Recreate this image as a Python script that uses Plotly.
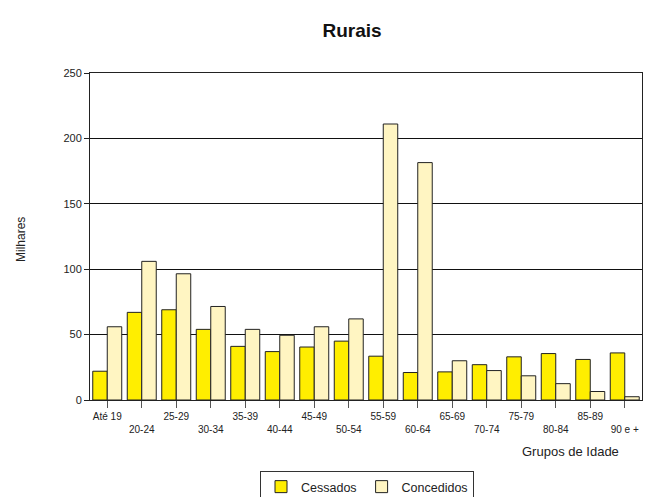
import plotly.graph_objects as go

categories = ["Até 19", "20-24", "25-29", "30-34", "35-39", "40-44", "45-49", "50-54",
              "55-59", "60-64", "65-69", "70-74", "75-79", "80-84", "85-89", "90 e +"]
cessados = [22, 67, 69, 54, 41, 37, 40.5, 45, 33.5, 21, 21.5, 27, 33, 35.5, 31, 36]
concedidos = [56, 106, 96.5, 71.5, 54, 49.5, 56, 62, 211, 181.5, 30, 22.5, 18.5, 12.5, 6.5, 2.5]
tick_labels = [c if i % 2 == 0 else "<br>" + c for i, c in enumerate(categories)]

W, H = 659, 497
pl, pr, pt, pb = 90, 642, 73, 400

fig = go.Figure()
fig.add_trace(go.Bar(x=categories, y=cessados, name="Cessados",
                     marker=dict(color="#FFEE00", line=dict(color="#222222", width=1))))
fig.add_trace(go.Bar(x=categories, y=concedidos, name="Concedidos",
                     marker=dict(color="#FFF5C2", line=dict(color="#222222", width=1))))

def px_x(x):
    return (x - pl) / (pr - pl)

def px_y(y):
    return (pb - y) / (pb - pt)

fig.update_layout(
    width=W, height=H,
    margin=dict(l=pl, r=W - pr, t=pt, b=H - pb, autoexpand=False),
    paper_bgcolor="white", plot_bgcolor="white",
    font=dict(family="Liberation Sans, Arial, sans-serif", color="#222222"),
    title=dict(text="<b>Rurais</b>", x=352 / W, xanchor="center",
               y=1 - 30 / H, yanchor="middle", yref="container",
               font=dict(size=19, color="#111111")),
    barmode="group", bargap=0.16, bargroupgap=0,
    showlegend=True,
    legend=dict(orientation="h", x=367 / W, xanchor="center", xref="container",
                y=1 - 471 / H, yanchor="top", yref="container",
                bordercolor="#333333", borderwidth=1, font=dict(size=12.5),
                itemwidth=30, tracegroupgap=0),
    xaxis=dict(tickmode="array", tickvals=categories, ticktext=tick_labels,
               tickfont=dict(size=10), ticks="outside", ticklen=7, tickcolor="#555555",
               showline=True, linecolor="#222222", mirror=True, linewidth=1,
               automargin=False),
    yaxis=dict(range=[0, 250], tickvals=[0, 50, 100, 150, 200, 250], ticks="outside",
               ticklen=5, tickcolor="#222222", tickfont=dict(size=11),
               showgrid=True, gridcolor="#111111", gridwidth=1,
               showline=True, linecolor="#222222", mirror=True, linewidth=1,
               zeroline=False, automargin=False),
    annotations=[
        dict(text="Milhares", x=px_x(21), y=px_y(240), xref="paper", yref="paper",
             showarrow=False, textangle=-90, font=dict(size=12),
             xanchor="center", yanchor="middle"),
        dict(text="Grupos de Idade", x=px_x(570), y=px_y(451), xref="paper", yref="paper",
             showarrow=False, font=dict(size=13), xanchor="center", yanchor="middle"),
    ],
)

fig.write_html("out.html", config={"displayModeBar": False},
               post_script="document.body.style.margin='0';document.body.style.overflow='hidden';")
